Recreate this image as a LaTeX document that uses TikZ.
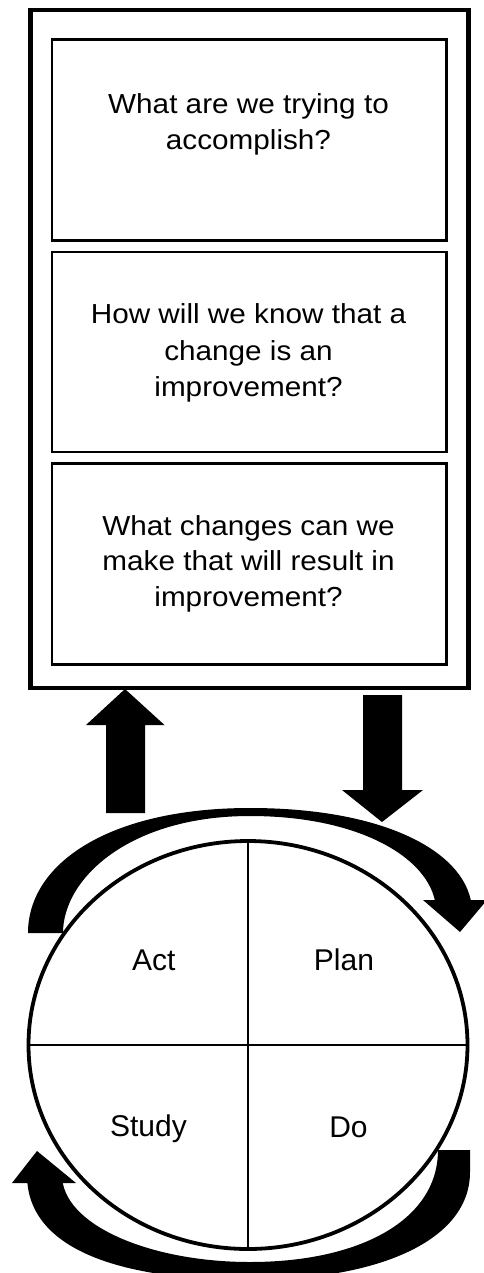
\documentclass[tikz,border=0pt]{standalone}
\usepackage{fontspec}
\setmainfont{Liberation Sans}
\newfontfamily\qfont[FakeStretch=1.08]{Liberation Sans}
\begin{document}
\begin{tikzpicture}[x=1pt,y=-1pt,
  qtext/.style={anchor=base, inner sep=0pt, font=\qfont\fontsize{27.5}{36}\selectfont},
  lbl/.style={anchor=base, inner sep=0pt, font=\fontsize{30}{36}\selectfont},
  qbox/.style={draw, line width=2.4pt},
  outerbox/.style={draw, line width=4.5pt},
  divider/.style={line width=2pt},
  cycleoutline/.style={draw, line width=3.8pt}]
\useasboundingbox (0,0) rectangle (483,1273);
\fill[white] (0,0) rectangle (483,1273);

% outer frame and question boxes
\draw[outerbox] (30.4,9.8) rectangle (468.3,688);
\draw[qbox] (52,39.7) rectangle (446.3,240.6);
\draw[qbox] (52,251.7) rectangle (446.3,451.7);
\draw[qbox] (52,463.3) rectangle (446.3,664.3);

\node[qtext] (q1a) at (248.5,113.3) {What are we trying to};
\node[qtext] (q1b) at (248.5,149.6) {accomplish?};
\node[qtext] (q2a) at (248.5,323.3) {How will we know that a};
\node[qtext] (q2b) at (248.5,360.3) {change is an};
\node[qtext] (q2c) at (248.5,396.3) {improvement?};
\node[qtext] (q3a) at (248.5,535) {What changes can we};
\node[qtext] (q3b) at (248.5,570.7) {make that will result in};
\node[qtext] (q3c) at (248.5,606.3) {improvement?};

% straight block arrows
\fill (125,689) -- (164.5,725) -- (145,725) -- (145,813) -- (106,813) -- (106,725) -- (86,725) -- cycle;
\fill (363,695) -- (402,695) -- (402,790) -- (423,790) -- (382,822) -- (342,790) -- (363,790) -- cycle;

% top curved arrow
\begin{scope}
\clip (0,0) -- (483,0) -- (483,900) -- (250,900) -- (250,1000) -- (0,1000) -- cycle;
\fill (28,933) .. controls (28,863) and (110,808) .. (250,808)
  .. controls (390,808) and (470,855) .. (472,910) -- (436,910)
  .. controls (435,862) and (365,816) .. (250,816)
  .. controls (130,816) and (63,878) .. (63,933) -- cycle;
\end{scope}
\fill (423,900) -- (487,900) -- (460,932) -- cycle;

% bottom curved arrow
\begin{scope}
\clip (250,1100) -- (483,1100) -- (483,1300) -- (0,1300) -- (0,1183) -- (250,1183) -- cycle;
\fill (470,1150) -- (470,1172) .. controls (470,1240) and (380,1280) .. (250,1280)
  .. controls (110,1280) and (27,1245) .. (27,1175) -- (62,1175)
  .. controls (62,1225) and (150,1262) .. (250,1262)
  .. controls (360,1262) and (438,1220) .. (438,1150) -- cycle;
\end{scope}
\fill (12,1183) -- (76,1183) -- (37,1151) -- cycle;

% PDSA cycle
\draw[cycleoutline, fill=white] (248,1045) ellipse [x radius=219.5, y radius=204];
\draw[divider] (248,841) -- (248,1249);
\draw[divider] (28.5,1045) -- (467.5,1045);

\node[lbl] (act) at (153.8,970) {Act};
\node[lbl] (plan) at (344,970) {Plan};
\node[lbl] (study) at (148.5,1136) {Study};
\node[lbl] (do) at (348.5,1137) {Do};
\end{tikzpicture}
\end{document}
